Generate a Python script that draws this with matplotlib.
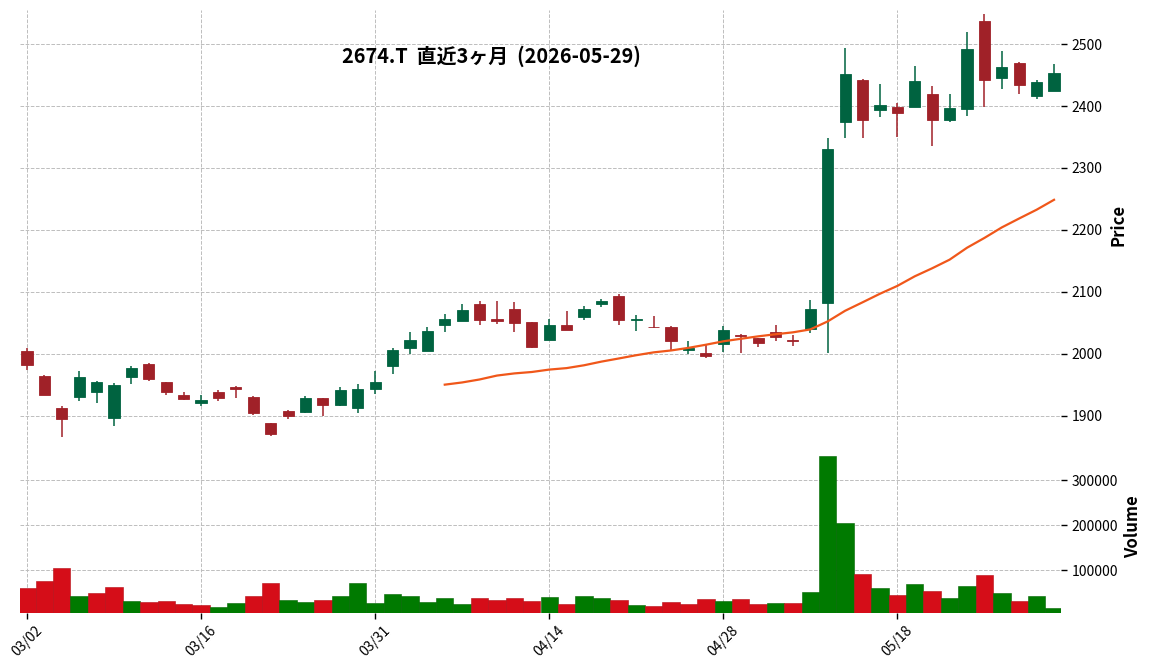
import numpy as np
import pandas as pd
import matplotlib

matplotlib.use("Agg")
import matplotlib.pyplot as plt
from matplotlib import ticker
from matplotlib.patches import Rectangle

plt.rcParams["font.family"] = ["Noto Sans CJK JP", "DejaVu Sans"]

# 2674.T daily data, last 3 months
dates = [
    "03/02", "03/03", "03/04", "03/05", "03/06", "03/09", "03/10", "03/11", "03/12", "03/13",
    "03/16", "03/17", "03/18", "03/19", "03/23", "03/24", "03/25", "03/26", "03/27", "03/30",
    "03/31", "04/01", "04/02", "04/03", "04/06", "04/07", "04/08", "04/09", "04/10", "04/13",
    "04/14", "04/15", "04/16", "04/17", "04/20", "04/21", "04/22", "04/23", "04/24", "04/27",
    "04/28", "04/30", "05/01", "05/07", "05/08", "05/11", "05/12", "05/13", "05/14", "05/15",
    "05/18", "05/19", "05/20", "05/21", "05/22", "05/25", "05/26", "05/27", "05/28", "05/29",
]
opens = [
    2004, 1965, 1913, 1930, 1938, 1896, 1962, 1984, 1954, 1933,
    1920, 1939, 1947, 1931, 1888, 1907, 1906, 1928, 1917, 1912,
    1943, 1980, 2009, 2005, 2046, 2053, 2080, 2056, 2072, 2051,
    2022, 2047, 2059, 2080, 2093, 2054, 2044, 2044, 2006, 2001,
    2016, 2031, 2025, 2035, 2023, 2040, 2082, 2374, 2442, 2393,
    2398, 2398, 2420, 2377, 2396, 2538, 2445, 2470, 2417, 2425,
]
highs = [
    2010, 1966, 1916, 1973, 1957, 1953, 1980, 1985, 1954, 1939,
    1933, 1942, 1948, 1932, 1888, 1909, 1932, 1929, 1947, 1951,
    1973, 2010, 2036, 2044, 2064, 2080, 2086, 2085, 2083, 2052,
    2057, 2069, 2077, 2089, 2096, 2063, 2061, 2045, 2020, 2014,
    2045, 2032, 2025, 2046, 2031, 2087, 2348, 2493, 2443, 2435,
    2405, 2464, 2432, 2419, 2519, 2548, 2489, 2471, 2442, 2468,
]
lows = [
    1974, 1933, 1866, 1924, 1920, 1883, 1952, 1957, 1934, 1926,
    1916, 1924, 1928, 1902, 1867, 1895, 1905, 1900, 1916, 1905,
    1935, 1967, 2000, 2005, 2035, 2053, 2046, 2048, 2035, 2009,
    2022, 2038, 2055, 2075, 2047, 2037, 2042, 2005, 1999, 1994,
    2003, 2002, 2011, 2021, 2012, 2034, 2002, 2349, 2349, 2383,
    2350, 2398, 2336, 2375, 2384, 2399, 2427, 2419, 2411, 2425,
]
closes = [
    1982, 1934, 1895, 1963, 1954, 1949, 1978, 1959, 1938, 1927,
    1926, 1928, 1943, 1904, 1870, 1900, 1928, 1918, 1942, 1944,
    1954, 2006, 2023, 2037, 2056, 2071, 2054, 2053, 2050, 2011,
    2046, 2038, 2073, 2086, 2054, 2057, 2043, 2020, 2009, 1996,
    2038, 2029, 2017, 2027, 2021, 2072, 2330, 2452, 2377, 2402,
    2388, 2441, 2377, 2397, 2492, 2442, 2463, 2434, 2439, 2454,
]
volumes = [
    60700, 76300, 105200, 43000, 49600, 63000, 31900, 29600, 31900, 25200,
    23000, 18500, 27400, 43000, 71900, 34100, 29600, 34100, 43000, 71900,
    27400, 47400, 43000, 29600, 38500, 25200, 38500, 34100, 38500, 31900,
    40700, 25200, 43000, 38500, 34100, 23000, 20700, 29600, 25200, 36300,
    31900, 36300, 25200, 27400, 27400, 51900, 354000, 205200, 91900, 60700,
    45200, 69600, 54100, 38500, 65200, 89600, 49600, 31900, 43000, 16300,
]
tick_positions = [0, 10, 20, 30, 40, 50]
title = "2674.T  直近3ヶ月  (2026-05-29)"

UP = "#006340"
DOWN = "#a02128"
VOL_UP = "#007a00"
VOL_DOWN = "#d50d18"
MA_COLOR = "#f0571a"


def style_axis(ax):
    for spine in ax.spines.values():
        spine.set_visible(False)
    ax.yaxis.tick_right()
    ax.yaxis.set_label_position("right")
    ax.grid(True, linestyle="--", color="#bdbdbd", linewidth=0.7)
    ax.set_axisbelow(True)
    ax.tick_params(axis="both", labelsize=10, length=4, width=1, color="black")
    ax.set_xlim(-0.4, len(dates) - 0.6)


def draw_candles(ax, width=0.64):
    for i, (o, h, l, c) in enumerate(zip(opens, highs, lows, closes)):
        color = UP if c >= o else DOWN
        ax.vlines(i, l, h, color=color, linewidth=1.1, zorder=2)
        body = max(abs(c - o), 0.6)
        ax.add_patch(
            Rectangle(
                (i - width / 2, min(o, c)),
                width,
                body,
                facecolor=color,
                edgecolor=color,
                linewidth=0.6,
                zorder=3,
            )
        )


fig = plt.figure(figsize=(11.52, 6.7), dpi=100)
ax_price = fig.add_axes([20 / 1152, 1 - 440 / 670, 1041 / 1152, 430 / 670])
ax_vol = fig.add_axes([20 / 1152, 1 - 613 / 670, 1041 / 1152, 173 / 670], sharex=ax_price)

x = np.arange(len(dates))

# price panel
style_axis(ax_price)
draw_candles(ax_price)
ma25 = pd.Series(closes).rolling(25).mean()
ax_price.plot(x, ma25, color=MA_COLOR, linewidth=1.6, zorder=4)
ax_price.set_ylim(1861, 2555)
ax_price.yaxis.set_major_locator(ticker.MultipleLocator(100))
ax_price.set_ylabel("Price", fontsize=12, weight="bold")
ax_price.yaxis.set_label_coords(1.047, 0.5)
ax_price.tick_params(axis="x", labelbottom=False, length=0)

# volume panel, colour by close vs previous close
style_axis(ax_vol)
prev = [opens[0]] + closes[:-1]
vol_colors = [VOL_UP if c > p else VOL_DOWN for c, p in zip(closes, prev)]
edge_colors = ["#006400" if c == VOL_UP else "#b50b14" for c in vol_colors]
ax_vol.bar(x, volumes, width=1.0, color=vol_colors, edgecolor=edge_colors, linewidth=0.4, zorder=2)
ax_vol.set_ylim(0.3 * min(volumes), 1.1 * max(volumes))
ax_vol.yaxis.set_major_locator(ticker.FixedLocator([100000, 200000, 300000]))
ax_vol.yaxis.set_major_formatter(ticker.FuncFormatter(lambda v, _: f"{int(v)}"))
ax_vol.set_ylabel("Volume", fontsize=12, weight="bold")
ax_vol.yaxis.set_label_coords(1.061, 0.5)
ax_vol.set_xticks(tick_positions)
ax_vol.set_xticklabels([dates[i] for i in tick_positions], rotation=45, ha="center")

fig.text(491 / 1152, 1 - 56 / 670, title, ha="center", va="center", fontsize=14.3, weight="bold")

fig.savefig("out.png", dpi=100)
